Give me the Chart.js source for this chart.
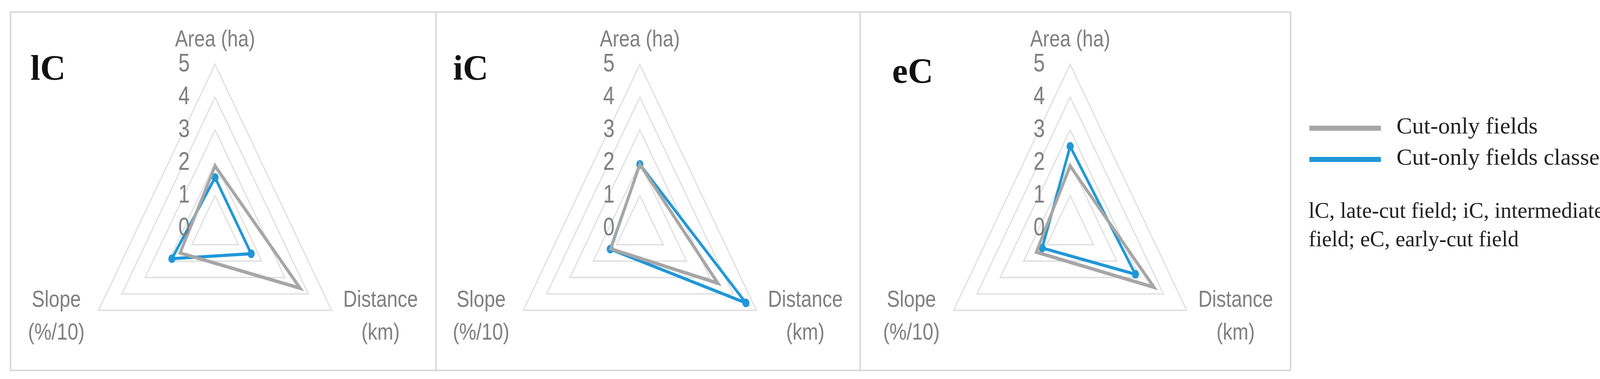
<!DOCTYPE html>
<html>
<head>
<meta charset="utf-8">
<script src="https://cdn.jsdelivr.net/npm/chart.js@4"></script>
<style>
  body { margin: 0; width: 4313px; height: 971px; background: #fff; position: relative; overflow: hidden; }
  .panel { position: absolute; top: 29px; height: 922px; border: 4px solid #d9d9d9; box-sizing: border-box; overflow: hidden; }
  .panel canvas { position: absolute; left: 0; top: 0; transform-origin: left top; }
  .tag { position: absolute; font: bold 90px/1 "Liberation Serif", serif; color: #111; z-index: 2; }
  .leg { position: absolute; left: 3352px; font: 60px/1 "Liberation Serif", serif; color: #222; }
  .leg span { display: inline-block; width: 183px; height: 13px; vertical-align: middle; margin-right: 40px; }
  .note { position: absolute; left: 3350px; top: 503px; font: 56px/73px "Liberation Serif", serif; color: #222; white-space: nowrap; }
</style>
</head>
<body>
<div class="panel" id="p0" style="left:25px;width:1093px"><div class="tag" style="left:49px;top:96px">lC</div><canvas id="c0"></canvas></div>
<div class="panel" id="p1" style="left:1114px;width:1090px;border-left:none"><div class="tag" style="left:46px;top:96px">iC</div><canvas id="c1"></canvas></div>
<div class="panel" id="p2" style="left:2200px;width:1106px;border-left:none"><div class="tag" style="left:84px;top:104px">eC</div><canvas id="c2"></canvas></div>
<div class="leg" style="top:292px"><span style="background:#a6a6a6"></span>Cut-only fields</div>
<div class="leg" style="top:372px"><span style="background:#1f97d8"></span>Cut-only fields classes</div>
<div class="note">lC, late-cut field; iC, intermediate-cut<br>field; eC, early-cut field</div>
<script>
const axes = ['Area (ha)', ['Distance', '(km)'], ['Slope', '(%/10)']];
const seriesNames = ['Cut-only fields', 'Cut-only fields classes'];
// values per panel: [Area, Distance, Slope]
const lcFields = [1.9, 3.65, 1.5];
const lcClasses = [1.55, 1.55, 1.85];
const icFields = [1.95, 3.35, 1.25];
const icClasses = [1.95, 4.55, 1.27];
const ecFields = [1.9, 3.6, 1.45];
const ecClasses = [2.5, 2.8, 1.2];
const tickMin = 0, tickMax = 5;

const panels = [[lcFields, lcClasses], [icFields, icClasses], [ecFields, ecClasses]];
const centerX = [522, 524, 540];   // radar centre inside each panel
const squeeze = 0.82;
const radius = 420, centerY = 552;
// label placement relative to the radius: [dx, dy of first line]
const labelPos = [[0, -1.15], [1.23, 0.44], [-1.18, 0.44]];
const grey = '#7f7f7f';

const labelPlugin = {
  id: 'labels',
  afterDraw(chart) {
    const s = chart.scales.r, ctx = chart.ctx;
    const r = s.drawingArea;
    ctx.save();
    ctx.fillStyle = grey;
    ctx.textAlign = 'center';
    ctx.textBaseline = 'middle';
    ctx.font = '64px "Liberation Sans"';
    s.ticks.forEach(t => {
      ctx.fillText(String(t.value), s.xCenter - 0.23 * r, s.yCenter - s.getDistanceFromCenterForValue(t.value));
    });
    ctx.font = '60px "Liberation Sans"';
    axes.forEach((lab, i) => {
      const lines = Array.isArray(lab) ? lab : [lab];
      lines.forEach((ln, j) => {
        ctx.fillText(ln, s.xCenter + labelPos[i][0] * r, s.yCenter + labelPos[i][1] * r + j * 0.2 * r);
      });
    });
    ctx.restore();
  }
};

panels.forEach(([fields, classes], i) => {
  const cv = document.getElementById('c' + i);
  const pw = document.getElementById('p' + i).clientWidth;
  const w = Math.round(pw / squeeze), h = 1110;
  cv.width = w; cv.height = h;
  cv.style.width = w + 'px'; cv.style.height = h + 'px';
  cv.style.transform = 'scaleX(' + squeeze + ')';
  const cx = centerX[i] / squeeze;
  new Chart(cv, {
    type: 'radar',
    data: {
      labels: axes,
      datasets: [
        { label: seriesNames[0], data: fields, borderColor: '#a6a6a6', borderWidth: 9, pointRadius: 0, fill: false },
        { label: seriesNames[1], data: classes, borderColor: '#1f97d8', backgroundColor: '#1f97d8', borderWidth: 8, pointRadius: 7, fill: false }
      ]
    },
    options: {
      responsive: false,
      animation: false,
      layout: { padding: { top: centerY - radius, bottom: h - centerY - radius, left: cx - radius, right: w - cx - radius } },
      plugins: { legend: { display: false }, tooltip: { enabled: false } },
      scales: {
        r: {
          min: tickMin, max: tickMax,
          ticks: { stepSize: 1, display: false },
          grid: { color: '#e2e2e2', lineWidth: 4 },
          angleLines: { display: false },
          pointLabels: { display: false }
        }
      }
    },
    plugins: [labelPlugin]
  });
});
</script>
</body>
</html>
